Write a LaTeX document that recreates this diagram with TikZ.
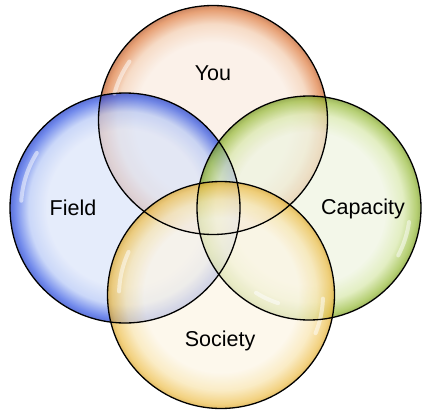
\documentclass[tikz,border=0pt]{standalone}
\usepackage{fontspec}
\setmainfont{Liberation Sans}
\usetikzlibrary{shadings}
\definecolor{youC}{HTML}{F9EBE0}\definecolor{youM}{HTML}{F3CDB0}\definecolor{youE}{HTML}{DE7C40}\definecolor{youR}{HTML}{B85A28}
\definecolor{fldC}{HTML}{DBE4F9}\definecolor{fldM}{HTML}{B6C8F6}\definecolor{fldE}{HTML}{3A5CE4}\definecolor{fldR}{HTML}{1E3CC8}
\definecolor{capC}{HTML}{EEF4E0}\definecolor{capM}{HTML}{D8E8AC}\definecolor{capE}{HTML}{98BC3C}\definecolor{capR}{HTML}{769820}
\definecolor{socC}{HTML}{FCF5E5}\definecolor{socM}{HTML}{F8E4AE}\definecolor{socE}{HTML}{EEC050}\definecolor{socR}{HTML}{D8A42C}
\pgfdeclareradialshading{shYou}{\pgfpoint{0bp}{0bp}}{color(0bp)=(youC); color(17bp)=(youC); color(21bp)=(youM); color(24bp)=(youE); color(25bp)=(youR); color(50bp)=(youR)}
\pgfdeclareradialshading{shFld}{\pgfpoint{0bp}{0bp}}{color(0bp)=(fldC); color(17bp)=(fldC); color(21bp)=(fldM); color(24bp)=(fldE); color(25bp)=(fldR); color(50bp)=(fldR)}
\pgfdeclareradialshading{shCap}{\pgfpoint{0bp}{0bp}}{color(0bp)=(capC); color(17bp)=(capC); color(21bp)=(capM); color(24bp)=(capE); color(25bp)=(capR); color(50bp)=(capR)}
\pgfdeclareradialshading{shSoc}{\pgfpoint{0bp}{0bp}}{color(0bp)=(socC); color(17bp)=(socC); color(21bp)=(socM); color(24bp)=(socE); color(25bp)=(socR); color(50bp)=(socR)}
\tikzset{
  bubble/.style={fill opacity=0.72},
  rim/.style={draw=black, line width=1.3pt},
  gloss/.style={draw=white, line width=4pt, draw opacity=0.5, line cap=round},
  lbl/.style={font=\fontsize{21.5}{25}\selectfont, text=black}
}
\begin{document}
\begin{tikzpicture}[x=1pt,y=-1pt]
\useasboundingbox (0,0) rectangle (422,409);
% fills
\shade[shading=shYou, bubble] (213,120) circle[radius=114.5pt];
\shade[shading=shFld, bubble] (125,208) circle[radius=115pt];
\shade[shading=shCap, bubble] (309,208) circle[radius=112pt];
\shade[shading=shSoc, bubble] (221,295) circle[radius=113.5pt];
% gloss highlights
\draw[gloss] (213,120) ++(145:102pt) arc[start angle=145, end angle=165, radius=102pt];
\draw[gloss] (125,208) ++(148:104pt) arc[start angle=148, end angle=176, radius=104pt];
\draw[gloss] (309,208) ++(-28:101pt) arc[start angle=-28, end angle=-8, radius=101pt];
\draw[gloss] (309,208) ++(238:100pt) arc[start angle=238, end angle=252, radius=100pt];
\draw[gloss] (221,295) ++(155:102pt) arc[start angle=155, end angle=178, radius=102pt];
\draw[gloss] (221,295) ++(-22:102pt) arc[start angle=-22, end angle=-2, radius=102pt];
% outlines
\draw[rim] (213,120) circle[radius=114.5pt];
\draw[rim] (125,208) circle[radius=115pt];
\draw[rim] (309,208) circle[radius=112pt];
\draw[rim] (221,295) circle[radius=113.5pt];
% labels
\node[lbl] (you) at (213,73) {You};
\node[lbl] (field) at (73,208) {Field};
\node[lbl] (capacity) at (363,209) {Capacity};
\node[lbl] (society) at (220,341) {Society};
\end{tikzpicture}
\end{document}
